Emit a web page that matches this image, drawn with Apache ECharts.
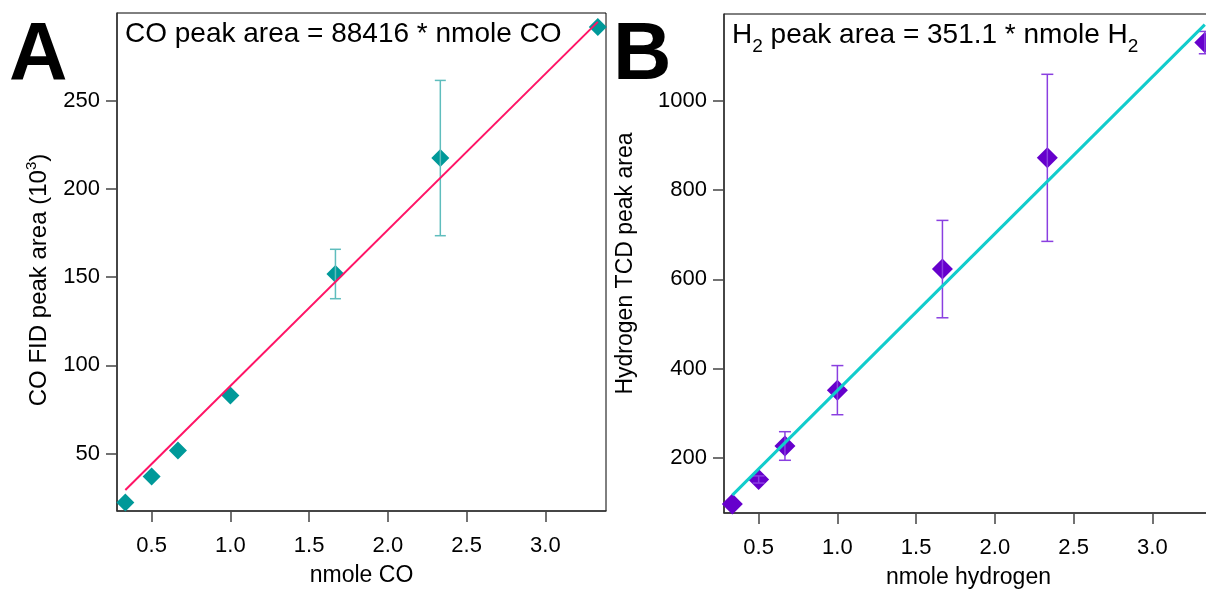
<!DOCTYPE html>
<html><head><meta charset="utf-8">
<script src="https://cdn.jsdelivr.net/npm/echarts@6/dist/echarts.min.js"></script>
<style>html,body{margin:0;padding:0;background:#fff}#c{width:1206px;height:590px}</style>
</head><body><div id="c"></div>
<script>
// ---- data ----
const nmole = [0.333, 0.5, 0.667, 1.0, 1.667, 2.333, 3.333];
const coArea = [22.3, 37, 51.8, 83, 151.8, 217.5, 291.8];   // 10^3
const coErr  = [0, 0, 0, 0, 14, 44, 0];
const h2Area = [97, 152, 227, 352, 623, 872, 1130];
const h2Err  = [0, 8, 32, 55, 109, 187, 25];
const coSlope = 88.416;   // 88416 per nmole, in 10^3 units
const h2Slope = 351.1;
const xTicks  = [0.5, 1.0, 1.5, 2.0, 2.5, 3.0];
const coTicks = [50, 100, 150, 200, 250];
const h2Ticks = [200, 400, 600, 800, 1000];

const F = 'Liberation Sans, Arial, sans-serif';
const chart = echarts.init(document.getElementById('c'), null, {renderer: 'canvas'});

function errData(vals, errs) {
  const out = [];
  nmole.forEach((x, i) => { if (errs[i] > 0) out.push([x, vals[i] - errs[i], vals[i] + errs[i]]); });
  return out;
}
function errRender(color, cap) {
  return function (params, api) {
    const x = api.value(0), lo = api.value(1), hi = api.value(2);
    const p1 = api.coord([x, hi]), p2 = api.coord([x, lo]);
    const style = {stroke: color, lineWidth: 1.5, fill: null};
    return {type: 'group', children: [
      {type: 'line', shape: {x1: p1[0], y1: p1[1], x2: p2[0], y2: p2[1]}, style},
      {type: 'line', shape: {x1: p1[0] - cap, y1: p1[1], x2: p1[0] + cap, y2: p1[1]}, style},
      {type: 'line', shape: {x1: p2[0] - cap, y1: p2[1], x2: p2[0] + cap, y2: p2[1]}, style}
    ]};
  };
}
function xAx(gi, name, min, max) {
  return {
    type: 'value', gridIndex: gi, min, max, name, nameLocation: 'middle', nameGap: 53,
    nameTextStyle: {fontSize: 23, color: '#000', fontFamily: F},
    axisLine: {show: true, onZero: false, lineStyle: {color: '#333', width: 1.5}},
    axisTick: {show: true, inside: false, length: 11, customValues: xTicks, lineStyle: {color: '#444', width: 1.5}},
    axisLabel: {customValues: xTicks, formatter: v => v.toFixed(1), fontSize: 22, color: '#000', margin: 24, fontFamily: F},
    splitLine: {show: false}
  };
}
function yAx(gi, name, min, max, ticks, gap, fs, pad, rich) {
  return {
    type: 'value', gridIndex: gi, min, max, name, nameLocation: 'middle', nameGap: gap,
    nameTextStyle: {fontSize: fs, color: '#000', fontFamily: F, rich: rich, padding: pad},
    axisLine: {show: true, onZero: false, lineStyle: {color: '#333', width: 1.5}},
    axisTick: {show: true, inside: false, length: 11, customValues: ticks, lineStyle: {color: '#444', width: 1.5}},
    axisLabel: {customValues: ticks, formatter: v => String(v), fontSize: 22, color: '#000', margin: 17, fontFamily: F},
    splitLine: {show: false}
  };
}

const option = {
  animation: false,
  backgroundColor: '#fff',
  grid: [
    {left: 117, top: 13, width: 489, height: 498, show: true, borderColor: '#000', borderWidth: 1,
     backgroundColor: 'transparent', outerBoundsMode: 'none', containLabel: false},
    {left: 724, top: 14, width: 489, height: 499, show: true, borderColor: '#000', borderWidth: 1,
     backgroundColor: 'transparent', outerBoundsMode: 'none', containLabel: false}
  ],
  xAxis: [
    xAx(0, 'nmole CO', 0.28, 3.385),
    xAx(1, 'nmole hydrogen', 0.28, 3.385)
  ],
  yAxis: [
    yAx(0, '{a|CO FID peak area (10}{s|3}{a|)}', 17.5, 299.7, coTicks, 63, 24, [0, 36, 0, 0],
        {a: {fontSize: 24, fontFamily: F, color: '#000'}, s: {fontSize: 15, fontFamily: F, color: '#000', padding: [0, 0, 15, 0]}}),
    yAx(1, 'Hydrogen TCD peak area', 77, 1194, h2Ticks, 87, 23, 0)
  ],
  graphic: [
    {type: 'text', left: 9, top: 16, style: {text: 'A', font: 'bold 81px ' + F, fill: '#000'}},
    {type: 'text', left: 613, top: 16, style: {text: 'B', font: 'bold 81px ' + F, fill: '#000'}},
    {type: 'text', left: 125, top: 20, style: {text: 'CO peak area = 88416 * nmole CO', font: '28px ' + F, fill: '#000'}},
    {type: 'text', left: 732, top: 15, style: {
      text: '{a|H}{s|2}{a| peak area = 351.1 * nmole H}{s|2}',
      rich: {a: {fontSize: 28, fontFamily: F, fill: '#000', lineHeight: 28},
             s: {fontSize: 19, fontFamily: F, fill: '#000', lineHeight: 19, padding: [22, 0, 0, 0]}}
    }}
  ],
  series: [
    {type: 'scatter', xAxisIndex: 0, yAxisIndex: 0, symbol: 'diamond', symbolSize: 18,
     itemStyle: {color: '#009999', opacity: 1}, data: nmole.map((x, i) => [x, coArea[i]]), z: 2, clip: false},
    {type: 'custom', xAxisIndex: 0, yAxisIndex: 0, renderItem: errRender('#5fbdbd', 5.5),
     data: errData(coArea, coErr), z: 3, clip: false},
    {type: 'line', xAxisIndex: 0, yAxisIndex: 0, showSymbol: false, symbol: 'none',
     lineStyle: {color: '#ff1466', width: 2}, z: 4,
     data: [[nmole[0], coSlope * nmole[0]], [nmole[nmole.length - 1], coSlope * nmole[nmole.length - 1]]]},

    {type: 'scatter', xAxisIndex: 1, yAxisIndex: 1, symbol: 'diamond', symbolSize: 21,
     itemStyle: {color: '#6600cc', opacity: 1}, data: nmole.map((x, i) => [x, h2Area[i]]), z: 2, clip: false},
    {type: 'custom', xAxisIndex: 1, yAxisIndex: 1, renderItem: errRender('#8a3fe0', 6),
     data: errData(h2Area, h2Err), z: 3, clip: false},
    {type: 'line', xAxisIndex: 1, yAxisIndex: 1, showSymbol: false, symbol: 'none',
     lineStyle: {color: '#11cccc', width: 3}, z: 4,
     data: [[nmole[0], h2Slope * nmole[0]], [nmole[nmole.length - 1], h2Slope * nmole[nmole.length - 1]]]}
  ]
};
chart.setOption(option);
</script>
</body></html>
